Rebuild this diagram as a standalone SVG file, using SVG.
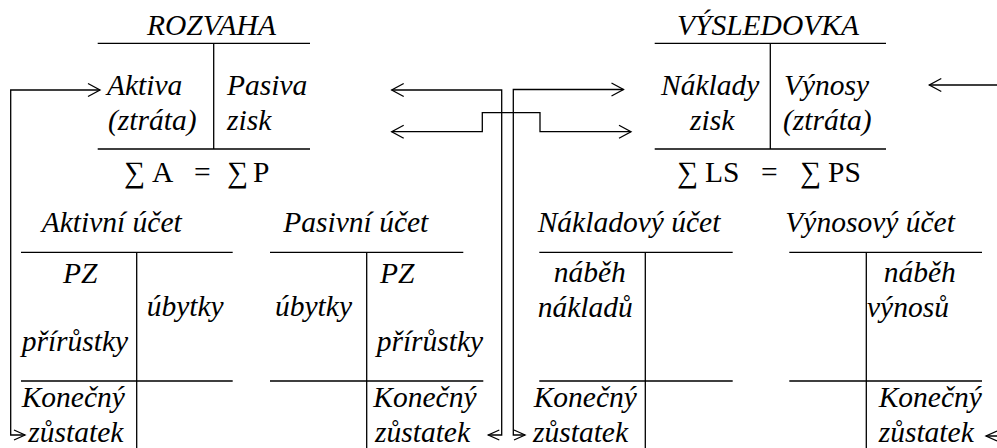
<svg xmlns="http://www.w3.org/2000/svg" width="997" height="448" viewBox="0 0 997 448">
<style>
  .t { font-family: "Liberation Serif", "Times New Roman", serif; font-size: 29.5px; font-style: italic; fill: #000; }
  .s { font-family: "Liberation Serif", "DejaVu Serif", serif; font-size: 29.5px; fill: #000; }
  .ln { stroke: #000; stroke-width: 1.3; fill: none; }
  .ah { stroke: #000; stroke-width: 1.3; fill: none; stroke-linejoin: miter; }
</style>
<rect x="0" y="0" width="997" height="448" fill="#fff"/>

<g id="rozvaha">
  <text class="t" x="147" y="35">ROZVAHA</text>
  <path class="ln" d="M97.7,43.3 H310 M213.7,43.3 V149 M97.7,149 H310"/>
  <text class="t" x="107" y="95">Aktiva</text>
  <text class="t" x="108" y="130">(ztráta)</text>
  <text class="t" x="227" y="95">Pasiva</text>
  <text class="t" x="227" y="130">zisk</text>
  <text class="s" x="124" y="182">∑</text>
  <text class="s" x="152" y="182">A</text>
  <text class="s" x="194" y="182">=</text>
  <text class="s" x="227" y="182">∑</text>
  <text class="s" x="253" y="182">P</text>
</g>

<g id="vysledovka">
  <text class="t" x="677" y="35">VÝSLEDOVKA</text>
  <path class="ln" d="M654.7,43.3 H886 M770.3,43.3 V149 M654.7,149 H886"/>
  <text class="t" x="661" y="95">Náklady</text>
  <text class="t" x="690" y="130">zisk</text>
  <text class="t" x="784" y="95">Výnosy</text>
  <text class="t" x="783" y="130">(ztráta)</text>
  <text class="s" x="677" y="182">∑</text>
  <text class="s" x="705" y="182">LS</text>
  <text class="s" x="761" y="182">=</text>
  <text class="s" x="800" y="182">∑</text>
  <text class="s" x="828" y="182">PS</text>
</g>

<g id="aktivni-ucet">
  <text class="t" x="41.7" y="232">Aktivní účet</text>
  <path class="ln" d="M21,252.3 H232.7 M136.7,252.3 V448 M21,381 H232.7"/>
  <text class="t" x="63" y="283">PZ</text>
  <text class="t" x="146.7" y="316">úbytky</text>
  <text class="t" x="21.7" y="350.7">přírůstky</text>
  <text class="t" x="21.7" y="407">Konečný</text>
  <text class="t" x="28.3" y="441.7">zůstatek</text>
</g>

<g id="pasivni-ucet">
  <text class="t" x="283.3" y="232">Pasivní účet</text>
  <path class="ln" d="M270,252.3 H463.3 M366.7,252.3 V448 M270,381 H483.3"/>
  <text class="t" x="380" y="283">PZ</text>
  <text class="t" x="275" y="316">úbytky</text>
  <text class="t" x="376.7" y="350.7">přírůstky</text>
  <text class="t" x="373.3" y="407">Konečný</text>
  <text class="t" x="375" y="441.7">zůstatek</text>
</g>

<g id="nakladovy-ucet">
  <text class="t" x="537.7" y="232">Nákladový účet</text>
  <path class="ln" d="M539.3,252.3 H732.7 M645.3,252.3 V448 M539.3,381 H732.7"/>
  <text class="t" x="553.7" y="282.3">náběh</text>
  <text class="t" x="537.7" y="317.3">nákladů</text>
  <text class="t" x="533.7" y="407">Konečný</text>
  <text class="t" x="533" y="441.7">zůstatek</text>
</g>

<g id="vynosovy-ucet">
  <text class="t" x="785.3" y="232">Výnosový účet</text>
  <path class="ln" d="M789.3,252.3 H982 M866.3,252.3 V448 M789.3,381 H982"/>
  <text class="t" x="883.7" y="282.3">náběh</text>
  <text class="t" x="867" y="317.3">výnosů</text>
  <text class="t" x="878.7" y="407">Konečný</text>
  <text class="t" x="878.7" y="441.7">zůstatek</text>
</g>

<g id="connectors">
  <!-- Aktivní KZ -> Aktiva -->
  <path class="ln" d="M100,90 H10.7 V435 H25"/>
  <path class="ah" d="M88,83.5 L100,90 L88,96.5"/>
  <path class="ah" d="M14,430 L25,435 L14,440"/>
  <!-- Pasivní KZ -> Pasiva -->
  <path class="ln" d="M391.7,90 H501.7 V435 H488.3"/>
  <path class="ah" d="M403.7,83.5 L391.7,90 L403.7,96.5"/>
  <path class="ah" d="M499.3,430 L488.3,435 L499.3,440"/>
  <!-- Nákladový KZ -> Náklady -->
  <path class="ln" d="M623.5,89.5 H513.3 V435 H525"/>
  <path class="ah" d="M611.5,83 L623.5,89.5 L611.5,96"/>
  <path class="ah" d="M514,430 L525,435 L514,440"/>
  <!-- zisk <-> zisk -->
  <path class="ln" d="M391.7,131.7 H482.3 V112.7 H540 V131.7 H631"/>
  <path class="ah" d="M403.7,125.2 L391.7,131.7 L403.7,138.2"/>
  <path class="ah" d="M619,125.2 L631,131.7 L619,138.2"/>
  <!-- Výnosový KZ -> Výnosy -->
  <path class="ln" d="M929.3,85 H1010 V436 H986"/>
  <path class="ah" d="M941.3,78.5 L929.3,85 L941.3,91.5"/>
  <path class="ah" d="M997,431 L986,436 L997,441"/>
</g>
</svg>
